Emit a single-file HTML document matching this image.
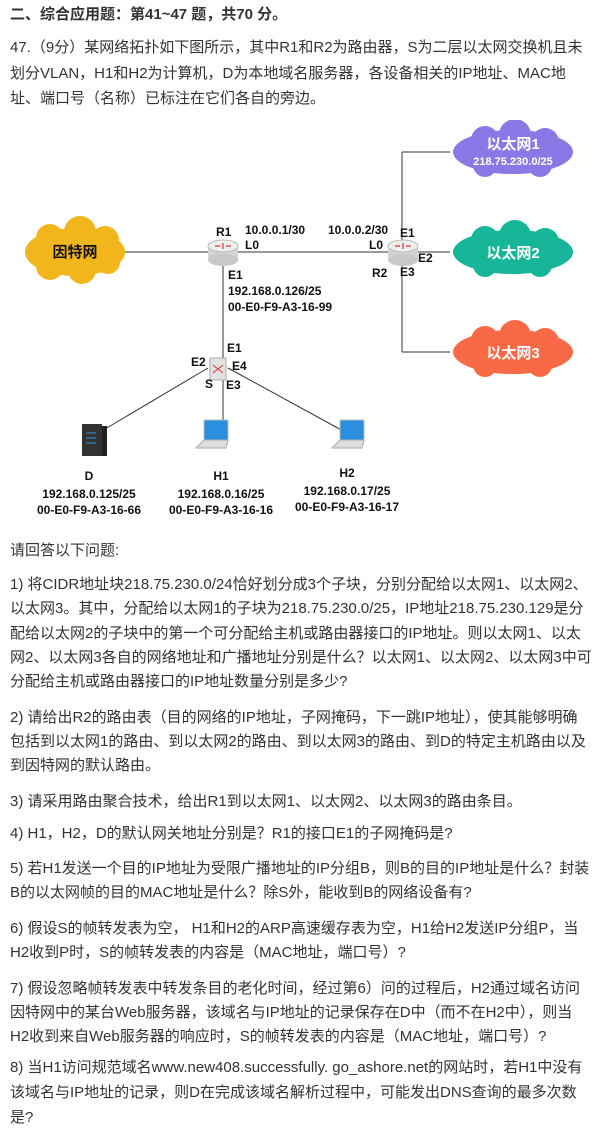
<!DOCTYPE html>
<html><head><meta charset="utf-8"><style>
body{margin:0;width:602px;height:1130px;background:#fff;position:relative;overflow:hidden;font-family:"Liberation Sans","Noto Sans CJK SC",sans-serif;color:#333;}
.l{position:absolute;left:10px;font-size:15px;line-height:20px;white-space:nowrap;}
.b{font-weight:bold;}
svg text{font-family:"Liberation Sans","Noto Sans CJK SC",sans-serif;font-weight:bold;font-size:11px;fill:#111;}
svg text.big{font-size:15px;}
svg text.m{font-size:12px;}
</style></head><body>
<div class="l b" style="top:5px">二、综合应用题：第41~47 题，共70 分。</div>
<div class="l" style="top:38px">47.（9分）某网络拓扑如下图所示，其中R1和R2为路由器，S为二层以太网交换机且未</div>
<div class="l" style="top:64px">划分VLAN，H1和H2为计算机，D为本地域名服务器，各设备相关的IP地址、MAC地</div>
<div class="l" style="top:89px">址、端口号（名称）已标注在它们各自的旁边。</div>

<svg style="position:absolute;left:0;top:120px" width="602" height="400" viewBox="0 120 602 400">
<g stroke="#333" stroke-width="1" fill="none">
<line x1="120" y1="252" x2="400" y2="252"/>
<line x1="402" y1="152" x2="402" y2="352"/>
<line x1="402" y1="152" x2="450" y2="152"/>
<line x1="402" y1="252" x2="450" y2="252"/>
<line x1="402" y1="352" x2="450" y2="352"/>
<line x1="223" y1="262" x2="223" y2="362"/>
<line x1="208" y1="368" x2="100" y2="432"/>
<line x1="223" y1="372" x2="223" y2="430"/>
<line x1="228" y1="368" x2="345" y2="432"/>
</g>
<g fill="#f2b51c">
<ellipse cx="75" cy="252" rx="50" ry="24"/>
<circle cx="50" cy="238" r="14"/><circle cx="80" cy="232" r="16"/><circle cx="105" cy="240" r="14"/>
<circle cx="50" cy="266" r="14"/><circle cx="82" cy="270" r="14"/><circle cx="108" cy="262" r="12"/>
</g>
<text x="75" y="257" text-anchor="middle" class="big">因特网</text>
<g fill="#8b78e6">
<ellipse cx="513" cy="152" rx="60" ry="22"/><circle cx="485" cy="140" r="14"/><circle cx="515" cy="135" r="16"/><circle cx="545" cy="142" r="14"/><circle cx="485" cy="165" r="12"/><circle cx="540" cy="165" r="12"/>
</g>
<text x="513" y="149" text-anchor="middle" class="big" style="fill:#fff">以太网1</text>
<text x="513" y="165" text-anchor="middle" style="fill:#fff">218.75.230.0/25</text>
<g fill="#17b698">
<ellipse cx="513" cy="252" rx="60" ry="22"/><circle cx="485" cy="240" r="14"/><circle cx="515" cy="236" r="16"/><circle cx="545" cy="242" r="14"/><circle cx="485" cy="265" r="12"/><circle cx="540" cy="265" r="12"/>
</g>
<text x="513" y="258" text-anchor="middle" class="big" style="fill:#fff">以太网2</text>
<g fill="#f86a45">
<ellipse cx="513" cy="352" rx="60" ry="22"/><circle cx="485" cy="340" r="14"/><circle cx="515" cy="336" r="16"/><circle cx="545" cy="342" r="14"/><circle cx="485" cy="365" r="12"/><circle cx="540" cy="365" r="12"/>
</g>
<text x="513" y="358" text-anchor="middle" class="big" style="fill:#fff">以太网3</text>
<g>
<rect x="208" y="246" width="30" height="14" fill="#d4d4d4"/><ellipse cx="223" cy="260" rx="15" ry="6" fill="#c8c8c8"/><ellipse cx="223" cy="246" rx="15" ry="6" fill="#eee" stroke="#bbb"/>
<path d="M215 246h5M226 246h5M223 243v6" stroke="#d33" stroke-width="1.2"/>
<rect x="388" y="246" width="30" height="14" fill="#d4d4d4"/><ellipse cx="403" cy="260" rx="15" ry="6" fill="#c8c8c8"/><ellipse cx="403" cy="246" rx="15" ry="6" fill="#eee" stroke="#bbb"/>
<path d="M395 246h5M406 246h5M403 243v6" stroke="#d33" stroke-width="1.2"/>
<rect x="210" y="358" width="16" height="22" fill="#e2e2e2" stroke="#aaa"/><path d="M213 365l10 8M213 373l10-8" stroke="#d33"/>
<rect x="82" y="424" width="20" height="32" fill="#333"/><rect x="102" y="426" width="5" height="30" fill="#222"/>
<path d="M86 433h10M86 438h10M86 443h10" stroke="#39c" stroke-width="1"/>
<rect x="204" y="420" width="24" height="20" fill="#2a8fde" stroke="#bbb"/><path d="M196 448l8-8h24l-2 8z" fill="#ddd" stroke="#aaa"/>
<rect x="340" y="420" width="24" height="20" fill="#2a8fde" stroke="#bbb"/><path d="M332 448l8-8h24l-2 8z" fill="#ddd" stroke="#aaa"/>
</g>
<text x="216" y="236" class="m">R1</text>
<text x="245" y="234" class="m">10.0.0.1/30</text>
<text x="245" y="249" class="m">L0</text>
<text x="328" y="234" class="m">10.0.0.2/30</text>
<text x="369" y="249" class="m">L0</text>
<text x="400" y="237" class="m">E1</text>
<text x="418" y="262" class="m">E2</text>
<text x="400" y="276" class="m">E3</text>
<text x="372" y="277" class="m">R2</text>
<text x="228" y="279" class="m">E1</text>
<text x="228" y="295" class="m">192.168.0.126/25</text>
<text x="228" y="311" class="m">00-E0-F9-A3-16-99</text>
<text x="227" y="352" class="m">E1</text>
<text x="191" y="366" class="m">E2</text>
<text x="232" y="370" class="m">E4</text>
<text x="205" y="388" class="m">S</text>
<text x="226" y="389" class="m">E3</text>
<text x="89" y="480" text-anchor="middle" class="m">D</text>
<text x="89" y="498" text-anchor="middle" class="m">192.168.0.125/25</text>
<text x="89" y="514" text-anchor="middle" class="m">00-E0-F9-A3-16-66</text>
<text x="221" y="480" text-anchor="middle" class="m">H1</text>
<text x="221" y="498" text-anchor="middle" class="m">192.168.0.16/25</text>
<text x="221" y="514" text-anchor="middle" class="m">00-E0-F9-A3-16-16</text>
<text x="347" y="477" text-anchor="middle" class="m">H2</text>
<text x="347" y="495" text-anchor="middle" class="m">192.168.0.17/25</text>
<text x="347" y="511" text-anchor="middle" class="m">00-E0-F9-A3-16-17</text>
</svg>

<div class="l" style="top:541px">请回答以下问题:</div>
<div class="l" style="top:575px">1) 将CIDR地址块218.75.230.0/24恰好划分成3个子块，分别分配给以太网1、以太网2、</div>
<div class="l" style="top:599px">以太网3。其中，分配给以太网1的子块为218.75.230.0/25，IP地址218.75.230.129是分</div>
<div class="l" style="top:624px">配给以太网2的子块中的第一个可分配给主机或路由器接口的IP地址。则以太网1、以太</div>
<div class="l" style="top:648px">网2、以太网3各自的网络地址和广播地址分别是什么？以太网1、以太网2、以太网3中可</div>
<div class="l" style="top:672px">分配给主机或路由器接口的IP地址数量分别是多少?</div>
<div class="l" style="top:708px">2) 请给出R2的路由表（目的网络的IP地址，子网掩码，下一跳IP地址），使其能够明确</div>
<div class="l" style="top:732px">包括到以太网1的路由、到以太网2的路由、到以太网3的路由、到D的特定主机路由以及</div>
<div class="l" style="top:756px">到因特网的默认路由。</div>
<div class="l" style="top:792px">3) 请采用路由聚合技术，给出R1到以太网1、以太网2、以太网3的路由条目。</div>
<div class="l" style="top:824px">4) H1，H2，D的默认网关地址分别是？R1的接口E1的子网掩码是?</div>
<div class="l" style="top:859px">5) 若H1发送一个目的IP地址为受限广播地址的IP分组B，则B的目的IP地址是什么？封装</div>
<div class="l" style="top:883px">B的以太网帧的目的MAC地址是什么？除S外，能收到B的网络设备有?</div>
<div class="l" style="top:919px">6) 假设S的帧转发表为空， H1和H2的ARP高速缓存表为空，H1给H2发送IP分组P，当</div>
<div class="l" style="top:943px">H2收到P时，S的帧转发表的内容是（MAC地址，端口号）?</div>
<div class="l" style="top:979px">7) 假设忽略帧转发表中转发条目的老化时间，经过第6）问的过程后，H2通过域名访问</div>
<div class="l" style="top:1003px">因特网中的某台Web服务器，该域名与IP地址的记录保存在D中（而不在H2中），则当</div>
<div class="l" style="top:1027px">H2收到来自Web服务器的响应时，S的帧转发表的内容是（MAC地址，端口号）?</div>
<div class="l" style="top:1058px">8) 当H1访问规范域名www.new408.successfully. go_ashore.net的网站时，若H1中没有</div>
<div class="l" style="top:1083px">该域名与IP地址的记录，则D在完成该域名解析过程中，可能发出DNS查询的最多次数</div>
<div class="l" style="top:1108px">是?</div>
</body></html>
